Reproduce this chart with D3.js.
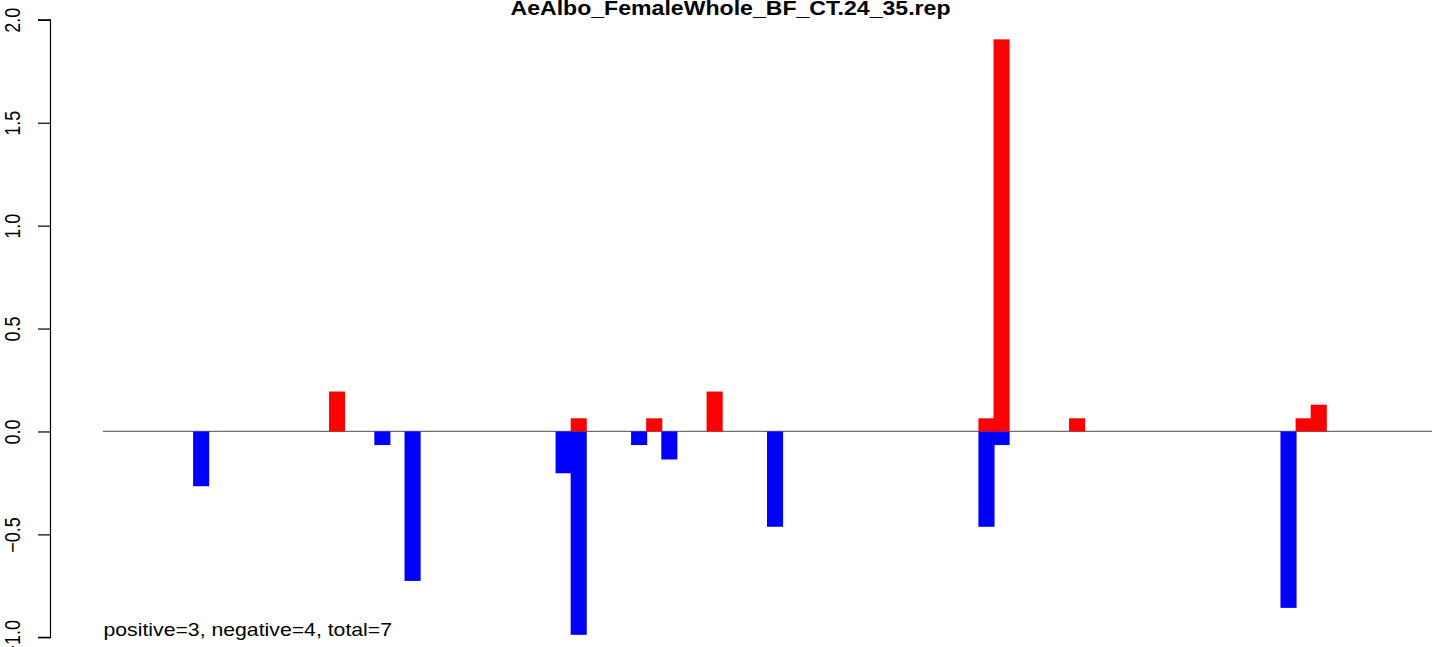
<!DOCTYPE html>
<html><head><meta charset="utf-8">
<script src="https://cdn.jsdelivr.net/npm/d3@7"></script>
<style>html,body{margin:0;padding:0;background:#fff;} svg{display:block;font-family:"Liberation Sans",Arial,sans-serif;}</style>
</head><body>
<script>
const title = "AeAlbo_FemaleWhole_BF_CT.24_35.rep";
const footnote = "positive=3, negative=4, total=7";
const slotCount = 88;
const posSlots  = [15, 31, 36, 40, 58, 59, 64, 79, 80];
const posValues = [0.194, 0.064, 0.064, 0.194, 0.064, 1.905, 0.064, 0.064, 0.13];
const negSlots  = [6, 18, 20, 30, 31, 35, 37, 44, 58, 59, 78];
const negValues = [-0.266, -0.066, -0.726, -0.203, -0.988, -0.066, -0.136, -0.463, -0.463, -0.066, -0.857];
const yTicks = [-1.0, -0.5, 0.0, 0.5, 1.0, 1.5, 2.0];

const W = 1444, H = 647, sx = 1.18;
const svg = d3.select("body").append("svg").attr("width", W).attr("height", H);
const x = d3.scaleLinear().domain([0, slotCount]).range([103, 1432]);
const y = d3.scaleLinear().domain([-1, 2]).range([637.3, 19.8]);

// baseline
svg.append("line").attr("x1", x(0)).attr("x2", x(slotCount)).attr("y1", y(0)).attr("y2", y(0))
  .attr("stroke", "#6e6e6e").attr("stroke-width", 1.3);

function bars(slots, vals, color) {
  svg.append("g").selectAll("rect").data(slots.map((s, i) => ({s, v: vals[i]}))).join("rect")
    .attr("x", d => x(d.s) - 0.5)
    .attr("width", d => x(d.s + 1) - x(d.s) + 1)
    .attr("y", d => Math.min(y(d.v), y(0)))
    .attr("height", d => Math.abs(y(d.v) - y(0)))
    .attr("fill", color);
}
bars(negSlots, negValues, "#0000ff");
bars(posSlots, posValues, "#ff0000");

// y axis
const ax = svg.append("g").attr("transform", "translate(50.5,0)");
ax.call(d3.axisLeft(y).tickValues(yTicks).tickSize(12.5).tickFormat(d3.format(".1f")));
ax.select(".domain").attr("d", `M-12.5,${y(-1)}H0V${y(2)}H-12.5`).attr("stroke", "#000").attr("stroke-width", 1.2).attr("fill", "none");
ax.selectAll(".tick line").attr("stroke", "#000").attr("stroke-width", 1.2);
ax.selectAll(".tick text").remove();
ax.selectAll(".tick").append("text")
  .attr("transform", `translate(${-50.5 + 20},0) scale(${sx},1) rotate(-90)`)
  .attr("text-anchor", "middle").attr("fill", "#000")
  .style("font-size", "18px").style("font-family", "'Liberation Sans',Arial,sans-serif")
  .text(d => d3.format(".1f")(d).replace("-", "\u2212"));

// title
svg.append("text").attr("transform", `translate(730.5,15) scale(1.155,1)`)
  .attr("text-anchor", "middle").style("font-size", "20px").style("font-weight", "bold").text(title);

// footnote
svg.append("text").attr("transform", `translate(103.5,635.5) scale(${sx},1)`)
  .style("font-size", "18px").text(footnote);
</script>
</body></html>
